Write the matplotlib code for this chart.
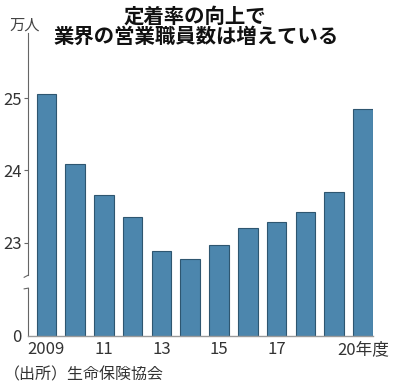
import numpy as np
import matplotlib
matplotlib.use('Agg')
import matplotlib.pyplot as plt

# ---- data (万人) ----
years = list(range(2009, 2021))
values = [25.05, 24.09, 23.66, 23.36, 22.89, 22.77, 22.97, 23.20, 23.29, 23.43, 23.70, 24.85]
xtick_idx = [0, 2, 4, 6, 8, 11]
xtick_labels = ['2009', '11', '13', '15', '17', '20年度']
ytick_vals = [0, 23, 24, 25]
ytick_labels = ['0', '23', '24', '25']

plt.rcParams['font.family'] = ['Noto Sans CJK JP', 'DejaVu Sans']

# broken axis: 0 .. ~22.3 squeezed, 22.3 .. 26 linear
B = 22.3
K = 72.2
def fwd(v):
    v = np.asarray(v, dtype=float)
    top = 93 + (v - 23) * K
    low = v * (93 + (B - 23) * K) / B
    return np.where(v > B, top, low)

def inv(y):
    y = np.asarray(y, dtype=float)
    yb = 93 + (B - 23) * K
    return np.where(y > yb, 23 + (y - 93) / K, y * B / yb)

fig = plt.figure(figsize=(3.94, 3.90), dpi=100)
ax = fig.add_axes([28.3/394, 54.3/390, (373-28.3)/394, (357-54.3)/390])
ax.set_yscale('function', functions=(fwd, inv))

x = np.arange(len(years))
ax.bar(x, values, width=0.68, color='#4c86ad', edgecolor='#2e5670', linewidth=0.8, zorder=2)

ax.set_xlim(-0.625, 11.35)
ax.set_ylim(0, 25.9)

ax.set_yticks(ytick_vals)
ax.set_yticklabels(ytick_labels, fontsize=12, color='#333333')
ax.set_xticks(xtick_idx)
ax.set_xticklabels(xtick_labels, fontsize=12, color='#333333')
ax.tick_params(axis='y', length=3, width=0.8, color='#666666', pad=2)
ax.tick_params(axis='x', length=0, pad=4)
ax.yaxis.get_major_ticks()[0].tick1line.set_visible(False)

for s in ['top', 'right', 'left']:
    ax.spines[s].set_visible(False)
ax.spines['bottom'].set_color('#9a9a9a')
ax.spines['bottom'].set_linewidth(1.0)

# left spine with break
tr = ax.get_yaxis_transform()
lo_top = 22.37
hi_bot = 22.55
ax.plot([0, 0], [0, lo_top], color='#666666', lw=0.8, transform=tr, clip_on=False)
ax.plot([0, 0], [hi_bot, 25.9], color='#666666', lw=0.8, transform=tr, clip_on=False)
ax.plot([0, -0.012], [lo_top, lo_top - 0.01], color='#666666', lw=0.8, transform=tr, clip_on=False)
ax.plot([0, -0.012], [hi_bot, hi_bot - 0.03], color='#666666', lw=0.8, transform=tr, clip_on=False)

# texts
fig.text(0.495, 0.959, '定着率の向上で', ha='center', va='center', fontsize=14.7,
         fontweight='bold', color='#111111')
fig.text(0.497, 0.907, '業界の営業職員数は増えている', ha='center', va='center', fontsize=14.7,
         fontweight='bold', color='#111111')
fig.text(9/394, 0.936, '万人', ha='left', va='center', fontsize=11, color='#444444')
fig.text(4/394, 0.038, '（出所）生命保険協会', ha='left', va='center', fontsize=11.5,
         color='#333333')

fig.savefig('out.png', dpi=100)
